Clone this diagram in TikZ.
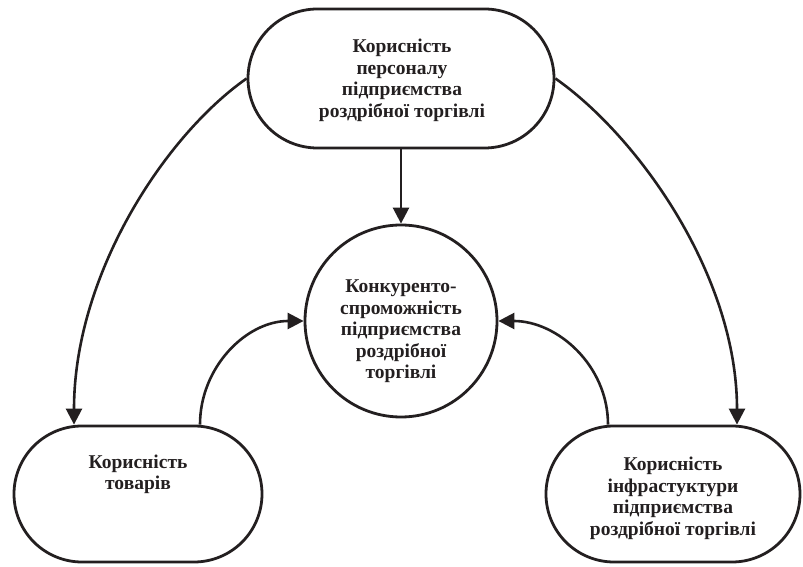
\documentclass[tikz,border=0pt]{standalone}
\usepackage{fontspec}
\setmainfont{Liberation Serif}
\usetikzlibrary{arrows.meta,shapes.misc}
\definecolor{ink}{RGB}{35,31,32}
\begin{document}
\begin{tikzpicture}[x=1pt,y=1pt,
  stadium/.style={draw=ink,line width=2.8pt,rounded rectangle,inner sep=0pt},
  ring/.style={draw=ink,line width=2.8pt,circle,inner sep=0pt,minimum size=192pt},
  lbl/.style={text=ink,align=center,font=\bfseries\fontsize{19.5}{21.5}\selectfont,inner sep=0pt},
  arr/.style={draw=ink,line width=2.6pt,-{Triangle[length=16pt,width=16pt]}}]
\useasboundingbox (0,0) rectangle (803,567);
% shapes
\node[stadium,minimum width=306pt,minimum height=139pt] (top) at (401,488.5) {};
\node[ring] (circ) at (401,246) {};
\node[stadium,minimum width=248pt,minimum height=136pt] (bl) at (138,73) {};
\node[stadium,minimum width=254pt,minimum height=136pt] (br) at (673,73) {};
% texts
\node[lbl] (ttop) at (402,486.5) {Корисність\\персоналу\\підприємства\\роздрібної торгівлі};
\node[lbl] (tcirc) at (401,235.5) {Конкуренто-\\спроможність\\підприємства\\роздрібної\\торгівлі};
\node[lbl] (tbl) at (138,92.5) {Корисність\\товарів};
\node[lbl] (tbr) at (673,68.5) {Корисність\\інфрастуктури\\підприємства\\роздрібної торгівлі};
% connectors
\draw[arr] (top.south) -- (circ.north);
\draw[arr] (top.west) to[out=215,in=90,out distance=100pt,in distance=150pt] ([xshift=-64pt]bl.north);
\draw[arr] (top.east) to[out=-35,in=90,out distance=100pt,in distance=150pt] ([xshift=64pt]br.north);
\draw[arr] ([xshift=62pt]bl.north) to[out=90,in=180] (circ.west);
\draw[arr] ([xshift=-65pt]br.north) to[out=90,in=0] (circ.east);
\end{tikzpicture}
\end{document}
